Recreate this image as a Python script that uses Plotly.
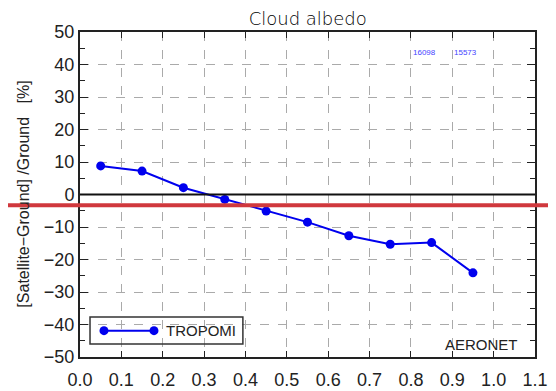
import plotly.graph_objects as go

x_vals = [0.05, 0.15, 0.25, 0.35, 0.45, 0.55, 0.65, 0.75, 0.85, 0.95]
y_vals = [8.8, 7.2, 2.1, -1.5, -5.1, -8.5, -12.7, -15.3, -14.8, -24.1]
series_name = "TROPOMI"
count_labels = ["16098", "15573"]
count_x = [0.8, 0.9]
x_ticks = [round(0.1 * i, 1) for i in range(12)]
y_ticks = list(range(-50, 51, 10))

FONT = "Liberation Sans, Arial, sans-serif"
BLUE = "#0000ee"

fig = go.Figure()
fig.add_trace(go.Scatter(
    x=x_vals, y=y_vals, mode="lines+markers", name=series_name,
    line=dict(color=BLUE, width=2), marker=dict(color=BLUE, size=9),
    showlegend=False,
))

axis_common = dict(
    showline=True, linecolor="#222", linewidth=2, mirror="ticks",
    showgrid=True, gridcolor="#aaa", griddash="dash", gridwidth=1,
    ticks="inside", tickcolor="#222", tickwidth=1,
    tickfont=dict(family=FONT, size=18, color="#222"),
    zeroline=False, automargin=False,
)

fig.update_xaxes(range=[0, 1.1], tickvals=x_ticks,
                 ticktext=[f"{v:.1f}" for v in x_ticks], ticklen=6,
                 ticklabelstandoff=5, **axis_common)
fig.update_yaxes(range=[-50, 50], tickvals=y_ticks, ticklen=8,
                 minor=dict(dtick=5, ticks="inside", ticklen=5, tickcolor="#222", showgrid=False),
                 **axis_common)

# y-axis title
fig.add_annotation(xref="paper", yref="paper", x=-0.125, y=0.5, text="[Satellite\u2212Ground] /Ground   [%]",
                   textangle=-90, showarrow=False, xanchor="center", yanchor="middle",
                   font=dict(family=FONT, size=16, color="#222"))

# zero line
fig.add_hline(y=0, line=dict(color="#111", width=2))

# count annotations
for cx, lab in zip(count_x, count_labels):
    fig.add_annotation(x=cx, y=43.8, text=lab, showarrow=False, xanchor="left",
                       font=dict(family=FONT, size=8, color="#4444ff"))

# legend box
fig.add_shape(type="rect", xref="paper", yref="paper", x0=0.022, x1=0.358, y0=0.04, y1=0.123,
              line=dict(color="#333", width=1.5), fillcolor="rgba(255,255,255,0)")
fig.add_shape(type="line", xref="paper", yref="paper", x0=0.0527, x1=0.1626, y0=0.081, y1=0.081,
              line=dict(color=BLUE, width=2))
for px in (0.0527, 0.1626):
    fig.add_shape(type="circle", xref="paper", yref="paper", xsizemode="pixel", ysizemode="pixel",
                  xanchor=px, yanchor=0.081, x0=-4.5, x1=4.5, y0=-4.5, y1=4.5,
                  fillcolor=BLUE, line=dict(color=BLUE, width=0))
fig.add_annotation(xref="paper", yref="paper", x=0.185, y=0.081, text=series_name, showarrow=False,
                   xanchor="left", yanchor="middle", font=dict(family=FONT, size=15, color="#222"))
fig.add_annotation(xref="paper", yref="paper", x=0.968, y=0.04, text="AERONET", showarrow=False,
                   xanchor="right", yanchor="middle", font=dict(family=FONT, size=15, color="#222"))

# red horizontal line across the figure
fig.add_shape(type="line", xref="paper", yref="paper", x0=-0.3, x1=1.1,
              y0=(357 - 205.3) / 325, y1=(357 - 205.3) / 325,
              line=dict(color="#d0383d", width=4), layer="above")

fig.update_layout(
    width=548, height=383,
    margin=dict(l=72, r=21, t=24, b=34, autoexpand=False),
    paper_bgcolor="white", plot_bgcolor="white",
    title=dict(text="Cloud albedo", x=0.547, xanchor="center", y=1 - 11 / 383, yanchor="middle",
               font=dict(family="DejaVu Sans, sans-serif", size=18, color="#000", weight=300)),
)

fig.write_html("out.html")
